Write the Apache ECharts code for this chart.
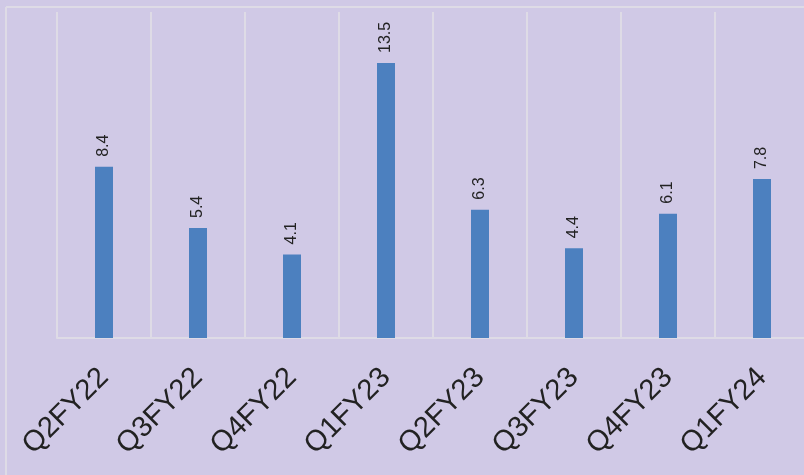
<!DOCTYPE html>
<html>
<head>
<meta charset="utf-8">
<script src="https://cdn.jsdelivr.net/npm/echarts@6/dist/echarts.min.js"></script>
<style>
  html, body { margin: 0; padding: 0; background: #d0c9e6; }
  #chart { width: 804px; height: 475px; }
</style>
</head>
<body>
<div id="chart"></div>
<script>
// Quarterly values
const categories = ['Q2FY22', 'Q3FY22', 'Q4FY22', 'Q1FY23', 'Q2FY23', 'Q3FY23', 'Q4FY23', 'Q1FY24'];
const values = [8.4, 5.4, 4.1, 13.5, 6.3, 4.4, 6.1, 7.8];

const chart = echarts.init(document.getElementById('chart'), null, { renderer: 'canvas' });

const frameColor = '#dedbe6';

chart.setOption({
  backgroundColor: '#d0c9e6',
  animation: false,
  grid: { left: 57, width: 752, top: 12, height: 326, containLabel: false, outerBoundsMode: 'none' },
  xAxis: {
    type: 'category',
    data: categories,
    boundaryGap: true,
    axisLine: { show: true, lineStyle: { color: frameColor, width: 2 } },
    axisTick: { show: false },
    axisLabel: {
      rotate: 45,
      margin: 35,
      fontSize: 29,
      color: '#222222',
      fontFamily: 'Liberation Sans, Arial, sans-serif'
    },
    splitLine: { show: true, interval: 0, lineStyle: { color: frameColor, width: 2 } }
  },
  yAxis: {
    type: 'value',
    min: 0,
    max: 16,
    show: false,
    splitLine: { show: false }
  },
  series: [{
    type: 'bar',
    data: values,
    barWidth: 18,
    itemStyle: { color: '#4c80bf' },
    label: {
      show: true,
      position: 'top',
      rotate: 90,
      align: 'left',
      verticalAlign: 'middle',
      distance: 10,
      fontSize: 16,
      color: '#222222',
      fontFamily: 'Liberation Sans, Arial, sans-serif',
      formatter: p => p.value.toFixed(1)
    }
  }],
  graphic: [
    { type: 'line', shape: { x1: 6, y1: 7, x2: 804, y2: 7 }, style: { stroke: frameColor, lineWidth: 2 } },
    { type: 'line', shape: { x1: 6, y1: 7, x2: 6, y2: 475 }, style: { stroke: frameColor, lineWidth: 2 } }
  ]
});
</script>
</body>
</html>
